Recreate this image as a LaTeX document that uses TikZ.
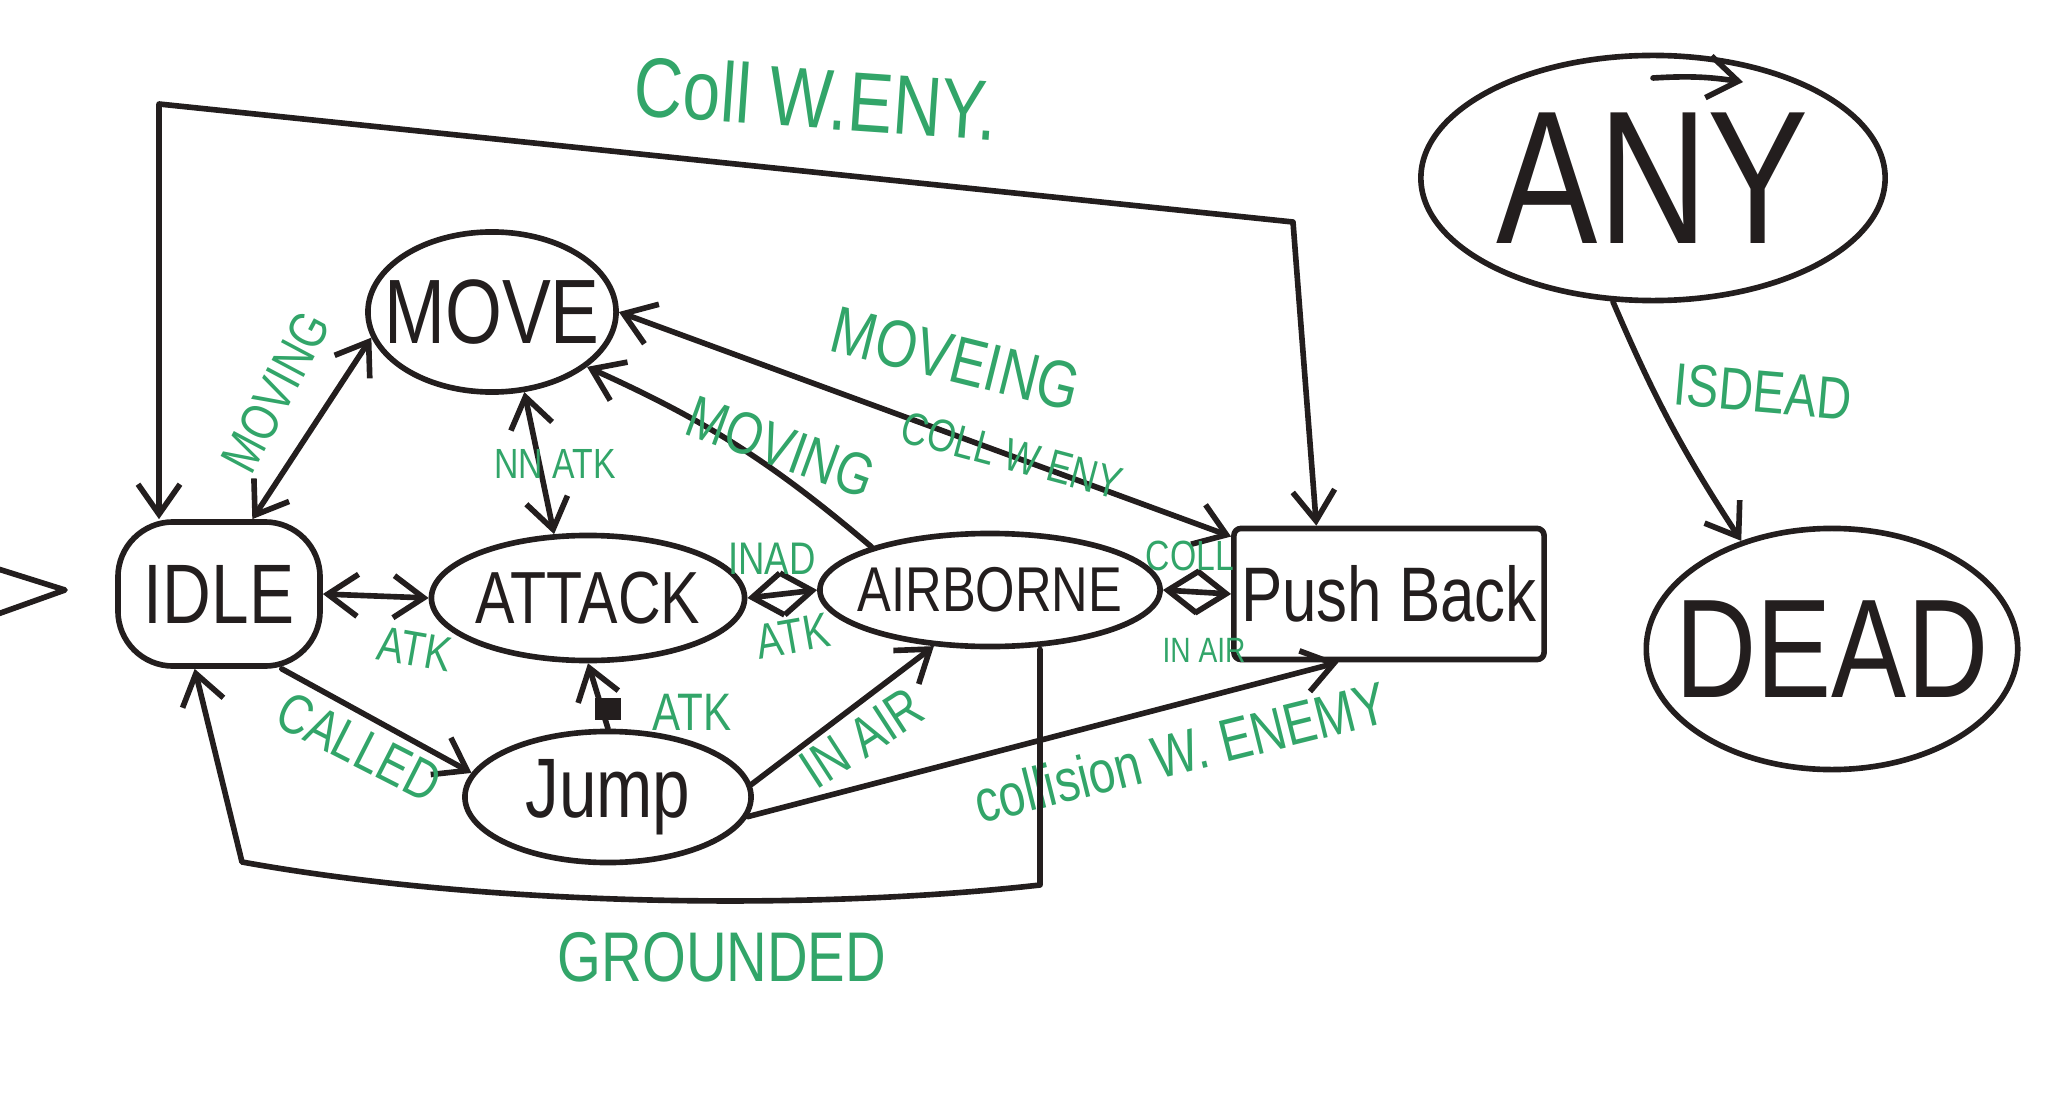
\documentclass[tikz,border=0pt]{standalone}
\usepackage{fontspec}
\newfontfamily\handfont[FakeStretch=0.8]{Liberation Sans}
\usepackage{xcolor}
\definecolor{mygreen}{RGB}{50,165,105}
\definecolor{myink}{RGB}{35,30,30}
\usetikzlibrary{shapes.geometric,arrows.meta,calc,positioning}
\newcommand{\fsz}[1]{\fontsize{#1}{#1}\selectfont}

\begin{document}
\begin{tikzpicture}[
  x=0.01cm, y=-0.01cm,
  line width=1.6pt,
  line cap=round,
  line join=round,
  color=myink,
  >={Straight Barb[length=3mm,width=4.2mm]},
  mystate/.style={
    draw,
    ellipse,
    inner sep=-0.25cm,
    font=\handfont\fsz{#1}
    },
  mybox/.style={
    draw,
    rectangle,
    inner sep=0pt,
    font=\handfont\fsz{#1}
    },
  mylabel/.style={
    text=mygreen,
    inner sep=1pt,
    font=\handfont\fsz{#1}
  }
]
\useasboundingbox (0,0) rectangle (2048,1094);

% states
\node[mystate=26, minimum width=2.48cm, minimum height=1.60cm] (move) at (492,312) {MOVE};
\node[mybox=24, rounded corners=0.55cm, minimum width=2.02cm, minimum height=1.44cm] (idle) at (219,594) {IDLE};
\node[mystate=21, minimum width=3.13cm, minimum height=1.25cm] (attack) at (588,598) {ATTACK};
\node[mystate=18, minimum width=3.40cm, minimum height=1.13cm] (airborne) at (990,590) {AIRBORNE};
\node[mybox=22, rounded corners=2pt, minimum width=3.10cm, minimum height=1.31cm] (push) at (1389,594) {Push Back};
\node[mystate=24, minimum width=2.86cm, minimum height=1.31cm] (jump) at (608,797) {Jump};
\node[mystate=54, minimum width=4.64cm, minimum height=2.45cm] (any) at (1653,178) {ANY};
\node[mystate=40, minimum width=3.53cm, minimum height=2.41cm] (dead) at (1832,649) {DEAD};

% entry mark
\coordinate (init) at (65,590);
\draw (-5,568) -- (init) -- (-5,615);

% long top connector
\coordinate (topl) at (159,104);
\coordinate (topr) at (1293,222);
\draw[<->] (topl |- idle.north) -- (topl) -- (topr) -- ($(push.north west)!0.27!(push.north east)$);
\node[mylabel=24, rotate=-4] (lcoll) at (816,98) {Coll W.ENY.};

% around MOVE
\draw[<->] (move.192) -- (idle.66);
\node[mylabel=15, rotate=62] (lmove1) at (276,392) {MOVING};
\draw[<->] (move.292) -- (attack.118);
\node[mylabel=12] (lnnatk) at (555,464) {NN ATK};
\draw[->] (airborne.160) to[bend right=8] (move.330);
\node[mylabel=17, rotate=-20] (lmove2) at (781,447) {MOVING};
\draw[<->] (move.0) -- (push.160);
\node[mylabel=19, rotate=-14] (lmoveing) at (956,359) {MOVEING};
\node[mylabel=13, rotate=-15] (lcollwe) at (1012,455) {COLL W ENY};

% middle row
\draw[<->] (idle.east) -- (attack.west);
\node[mylabel=14, rotate=-10] (latk1) at (415,649) {ATK};
\draw[<->] (attack.east) -- (airborne.west);
\node[mylabel=13] (linad) at (772,559) {INAD};
\node[mylabel=14, rotate=10] (latk2) at (793,636) {ATK};
\draw[<->] (airborne.east) -- (push.west);
\node[mylabel=12] (lcollp) at (1190,556) {COLL};
\node[mylabel=10] (linair1) at (1204,650) {IN AIR};

% around Jump
\draw[->] (idle.-50) -- (jump.170);
\node[mylabel=16, rotate=-27] (lcalled) at (359,747) {CALLED};
\fill ($(jump.north)+(-13,-9)$) rectangle +(26,-22);
\draw[->] (jump.north) -- (attack.south);
\node[mylabel=15] (latk3) at (692,712) {ATK};
\draw[->] (jump.5) -- (airborne.225);
\node[mylabel=16, rotate=33] (linair2) at (862,738) {IN AIR};
\draw[->] (jump.-8) -- ($(push.south west)!0.34!(push.south east)$);
\node[mylabel=17, rotate=14] (lcollision) at (1180,752) {collision W. ENEMY};

% back to IDLE
\coordinate (gr) at (1040,885);
\coordinate (gl) at (242,862);
\draw[->] (gr |- airborne.south) -- (gr) .. controls (800,912) and (480,905) .. (gl) -- (idle.252);
\node[mylabel=20] (lgrounded) at (722,957) {GROUNDED};

% ANY / DEAD
\draw[->] ([shift={(0,-100)}]any.center) to[bend left=6] ([shift={(90,-96)}]any.center);
\draw[->] (any.252) to[bend right=5] (dead.130);
\node[mylabel=17, rotate=-5] (lisdead) at (1763,392) {ISDEAD};

\end{tikzpicture}
\end{document}
